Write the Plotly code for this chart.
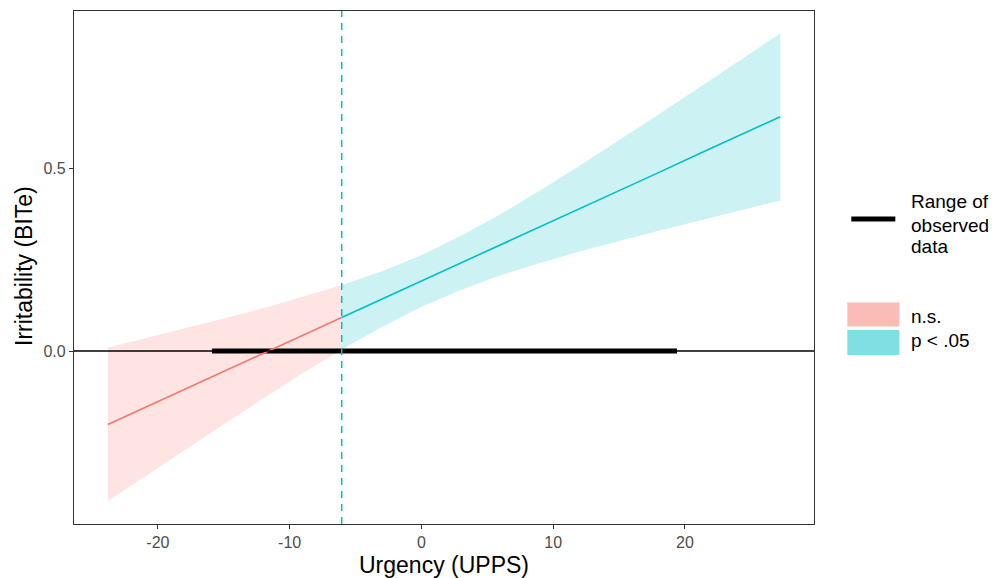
import plotly.graph_objects as go

# ---- data ----
jn_point = -6.05                       # Johnson-Neyman boundary (dashed line)
obs_range = [-15.9, 19.4]              # range of observed data

ns_x     = [-23.8, -21, -18, -15, -12, -9, -6.05]
ns_fit   = [-0.201, -0.155, -0.105, -0.056, -0.006, 0.043, 0.092]
ns_lower = [-0.410, -0.343, -0.271, -0.200, -0.130, -0.061, 0.004]
ns_upper = [0.009, 0.034, 0.061, 0.089, 0.117, 0.148, 0.180]

sig_x     = [-6.05, -3, 0, 3, 6, 9, 12, 15, 18, 21, 24, 27.24]
sig_fit   = [0.092, 0.142, 0.192, 0.241, 0.291, 0.340, 0.389, 0.439, 0.488, 0.538, 0.587, 0.641]
sig_lower = [0.004, 0.066, 0.121, 0.167, 0.207, 0.241, 0.272, 0.301, 0.329, 0.356, 0.383, 0.412]
sig_upper = [0.180, 0.218, 0.262, 0.315, 0.374, 0.439, 0.507, 0.576, 0.647, 0.719, 0.791, 0.869]

x_ticks = [-20, -10, 0, 10, 20]
y_ticks = [0.0, 0.5]
y_ticklabels = ["0.0", "0.5"]

RED = "#F8766D"
CYAN = "#00BFC4"
RED_FILL = "rgba(248,118,109,0.2)"
CYAN_FILL = "rgba(0,191,196,0.2)"

fig = go.Figure()

# confidence bands
fig.add_trace(go.Scatter(x=ns_x, y=ns_lower, mode="lines", line=dict(width=0),
                         showlegend=False, hoverinfo="skip"))
fig.add_trace(go.Scatter(x=ns_x, y=ns_upper, mode="lines", line=dict(width=0),
                         fill="tonexty", fillcolor=RED_FILL, showlegend=False, hoverinfo="skip"))
fig.add_trace(go.Scatter(x=sig_x, y=sig_lower, mode="lines", line=dict(width=0),
                         showlegend=False, hoverinfo="skip"))
fig.add_trace(go.Scatter(x=sig_x, y=sig_upper, mode="lines", line=dict(width=0),
                         fill="tonexty", fillcolor=CYAN_FILL, showlegend=False, hoverinfo="skip"))

# zero line
fig.add_hline(y=0, line=dict(color="black", width=1.5), layer="above")

# observed range
fig.add_trace(go.Scatter(x=obs_range, y=[0, 0], mode="lines",
                         line=dict(color="black", width=5), showlegend=False))

# fitted slopes
fig.add_trace(go.Scatter(x=ns_x, y=ns_fit, mode="lines",
                         line=dict(color=RED, width=1.6), showlegend=False))
fig.add_trace(go.Scatter(x=sig_x, y=sig_fit, mode="lines",
                         line=dict(color=CYAN, width=1.6), showlegend=False))

# JN boundary
fig.add_vline(x=jn_point, line=dict(color=CYAN, width=1.5, dash="7px,6px"))

# ---- helpers: page pixel -> paper coords (plot area 74..813.7 x 11..524) ----
PL, PR, PT, PB = 74.0, 813.7, 11.0, 524.0
def px(x):
    return (x - PL) / (PR - PL)
def py(y):
    return (PB - y) / (PB - PT)

# ---- manual legend ----
fs_leg = 19
fig.add_shape(type="line", xref="paper", yref="paper",
              x0=px(851), x1=px(895), y0=py(219), y1=py(219),
              line=dict(color="black", width=5))
for txt, yc in [("Range of", 201.5), ("observed", 225), ("data", 246.5)]:
    fig.add_annotation(xref="paper", yref="paper", x=px(909), y=py(yc),
                       text=txt, showarrow=False, xanchor="left", yanchor="middle",
                       font=dict(size=fs_leg, color="black"))
fig.add_shape(type="rect", xref="paper", yref="paper",
              x0=px(847), x1=px(899), y0=py(326.5), y1=py(302.5),
              fillcolor="#FBBBB6", line=dict(width=0))
fig.add_shape(type="rect", xref="paper", yref="paper",
              x0=px(847), x1=px(899), y0=py(355), y1=py(330),
              fillcolor="#80DFE2", line=dict(width=0))
fig.add_annotation(xref="paper", yref="paper", x=px(909), y=py(316),
                   text="n.s.", showarrow=False, xanchor="left", yanchor="middle",
                   font=dict(size=fs_leg, color="black"))
fig.add_annotation(xref="paper", yref="paper", x=px(909), y=py(340),
                   text="p < .05", showarrow=False, xanchor="left", yanchor="middle",
                   font=dict(size=fs_leg, color="black"))

# ---- axis titles ----
fig.add_annotation(xref="paper", yref="paper", x=0.5, y=py(565),
                   text="Urgency (UPPS)", showarrow=False, xanchor="center", yanchor="middle",
                   font=dict(size=23, color="black"))
fig.add_annotation(xref="paper", yref="paper", x=px(24), y=py(266),
                   text="Irritability (BITe)", showarrow=False, textangle=-90,
                   xanchor="center", yanchor="middle",
                   font=dict(size=23, color="black"))

# page body has an 8px margin; compensate so plot area lands at the target pixels
fig.update_layout(
    width=989, height=570,
    margin=dict(l=66, r=183.3, t=3, b=54, autoexpand=False),
    paper_bgcolor="white", plot_bgcolor="white",
    font=dict(family="Liberation Sans, Arial, sans-serif", color="black"),
    showlegend=False,
)
fig.update_xaxes(
    range=[-26.37, 29.8], tickvals=x_ticks, ticktext=[str(v) for v in x_ticks],
    showgrid=False, zeroline=False, showline=True, mirror=True,
    linecolor="#333333", linewidth=1.2, automargin=False,
    ticks="outside", ticklen=4, tickcolor="#333333",
    tickfont=dict(size=16, color="#4D4D4D"),
)
fig.update_yaxes(
    range=[-0.473, 0.930], tickvals=y_ticks, ticktext=y_ticklabels,
    showgrid=False, zeroline=False, showline=True, mirror=True,
    linecolor="#333333", linewidth=1.2, automargin=False,
    ticks="outside", ticklen=4, tickcolor="#333333",
    tickfont=dict(size=16, color="#4D4D4D"),
)

fig.write_html("out.html")
